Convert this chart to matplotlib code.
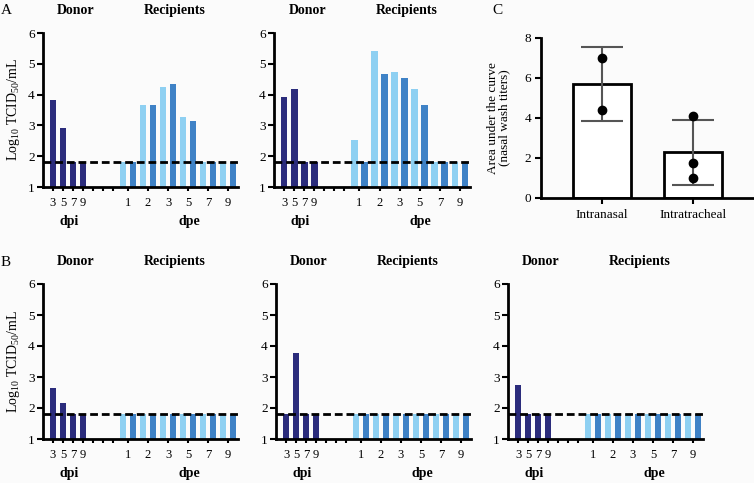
import numpy as np
import matplotlib
matplotlib.use('Agg')
import matplotlib.pyplot as plt
from matplotlib.transforms import blended_transform_factory

plt.rcParams['font.family'] = ['Liberation Serif', 'DejaVu Serif']
plt.rcParams['mathtext.fontset'] = 'custom'
plt.rcParams['mathtext.rm'] = 'Liberation Serif'
plt.rcParams['mathtext.it'] = 'Liberation Serif:italic'

# --- data (log10 TCID50/mL) ---
LOD = 1.8
donor_labels = ['3', '5', '7', '9']
dpe_labels = ['1', '2', '3', '5', '7', '9']

# panel A: two pairs
a1_donor = [3.82, 2.92, 1.8, 1.8]
a1_recip = [1.8, 1.8, 3.67, 3.67, 4.25, 4.34, 3.26, 3.14, 1.8, 1.8, 1.8, 1.8]
a2_donor = [3.93, 4.17, 1.8, 1.8]
a2_recip = [2.53, 1.8, 5.43, 4.66, 4.74, 4.53, 4.17, 3.67, 1.8, 1.8, 1.8, 1.8]

# panel B: three pairs
b1_donor = [2.66, 2.16, 1.8, 1.8]
b2_donor = [1.8, 3.78, 1.8, 1.8]
b3_donor = [2.74, 1.8, 1.8, 1.8]
b_recip = [1.8] * 12

# panel C: area under the curve
c_groups = ['Intranasal', 'Intratracheal']
c_means = [5.7, 2.28]
c_sd = [1.85, 1.62]
c_points = [[7.0, 4.4], [4.1, 1.75, 1.0]]

NAVY = '#2b2c7c'
LIGHT = '#8ed0f2'
MED = '#3f82c6'
BG = '#fbfbfb'

W, H = 754, 483
fig = plt.figure(figsize=(W / 100, H / 100), dpi=100, facecolor=BG)


def px_axes(left, top, right, bottom):
    return fig.add_axes([left / W, 1 - bottom / H, (right - left) / W, (bottom - top) / H])


def titer_panel(ax, donor, recip, ylabel=False):
    ax.set_facecolor(BG)
    donor_x = np.arange(4)
    recip_x = np.arange(7, 19)
    ax.bar(donor_x, donor, width=0.68, bottom=0, color=NAVY)
    cols = [LIGHT if i % 2 == 0 else MED for i in range(len(recip))]
    ax.bar(recip_x, recip, width=0.68, color=cols)
    ax.axhline(LOD, color='black', lw=2, ls=(0, (2.8, 1.4)), zorder=3)
    ax.set_ylim(1, 6)
    ax.set_xlim(-1, 18.5)
    ax.set_yticks(range(1, 7))
    ticks = list(range(7)) + [7.5 + 2 * i for i in range(6)]
    ax.set_xticks(ticks)
    ax.set_xticklabels(donor_labels + ['', '', ''] + dpe_labels)
    for s in ['top', 'right']:
        ax.spines[s].set_visible(False)
    for s in ['left', 'bottom']:
        ax.spines[s].set_linewidth(2)
    ax.tick_params(axis='y', length=4, width=1.5, labelsize=9.5, pad=2)
    ax.tick_params(axis='x', length=3, width=1.5, labelsize=9, pad=4)
    tr = blended_transform_factory(ax.transData, ax.transAxes)
    ax.text(2.3, 1.145, 'Donor', transform=tr, ha='center', va='center',
            fontsize=10, fontweight='bold')
    ax.text(12.2, 1.145, 'Recipients', transform=tr, ha='center', va='center',
            fontsize=10, fontweight='bold')
    ax.text(1.65, -0.225, 'dpi', transform=tr, ha='center', va='center',
            fontsize=10, fontweight='bold')
    ax.text(13.6, -0.225, 'dpe', transform=tr, ha='center', va='center',
            fontsize=10, fontweight='bold')
    if ylabel:
        ax.set_ylabel(r'Log$_{10}$ TCID$_{50}$/mL', fontsize=10, labelpad=4)


ax1 = px_axes(43, 33, 238, 187)
titer_panel(ax1, a1_donor, a1_recip, ylabel=True)
ax2 = px_axes(274, 33, 470, 187)
titer_panel(ax2, a2_donor, a2_recip)

ax3 = px_axes(43, 284, 238, 439)
titer_panel(ax3, b1_donor, b_recip, ylabel=True)
ax4 = px_axes(276, 284, 471, 439)
titer_panel(ax4, b2_donor, b_recip)
ax5 = px_axes(508, 284, 703, 439)
titer_panel(ax5, b3_donor, b_recip)

# panel C
axc = px_axes(541, 38, 754, 198)
axc.set_facecolor(BG)
xc = np.arange(len(c_groups))
axc.bar(xc, c_means, width=0.64, color='white', edgecolor='black', linewidth=2, zorder=2)
axc.errorbar(xc, c_means, yerr=c_sd, fmt='none', ecolor='#555555', elinewidth=1.5,
             capsize=15, capthick=1.5, zorder=3)
for i, pts in enumerate(c_points):
    axc.plot([xc[i]] * len(pts), pts, 'o', color='black', ms=6, zorder=4)
axc.set_xlim(-0.67, 1.67)
axc.set_ylim(0, 8)
axc.set_yticks([0, 2, 4, 6, 8])
axc.set_xticks(xc)
axc.set_xticklabels(c_groups)
for s in ['top', 'right']:
    axc.spines[s].set_visible(False)
for s in ['left', 'bottom']:
    axc.spines[s].set_linewidth(2)
axc.tick_params(axis='y', length=4, width=1.5, labelsize=9.5, pad=3)
axc.tick_params(axis='x', length=4, width=1.5, labelsize=9.5, pad=4)
axc.set_ylabel('Area under the curve\n(nasal wash titers)', fontsize=9.5,
               linespacing=1.0, labelpad=10)

fig.text(6 / W, 1 - 10 / H, 'A', fontsize=11, ha='center', va='center')
fig.text(6 / W, 1 - 263 / H, 'B', fontsize=11, ha='center', va='center')
fig.text(497 / W, 1 - 10 / H, 'C', fontsize=11, ha='center', va='center')

fig.savefig('out.png', dpi=100, facecolor=BG)
